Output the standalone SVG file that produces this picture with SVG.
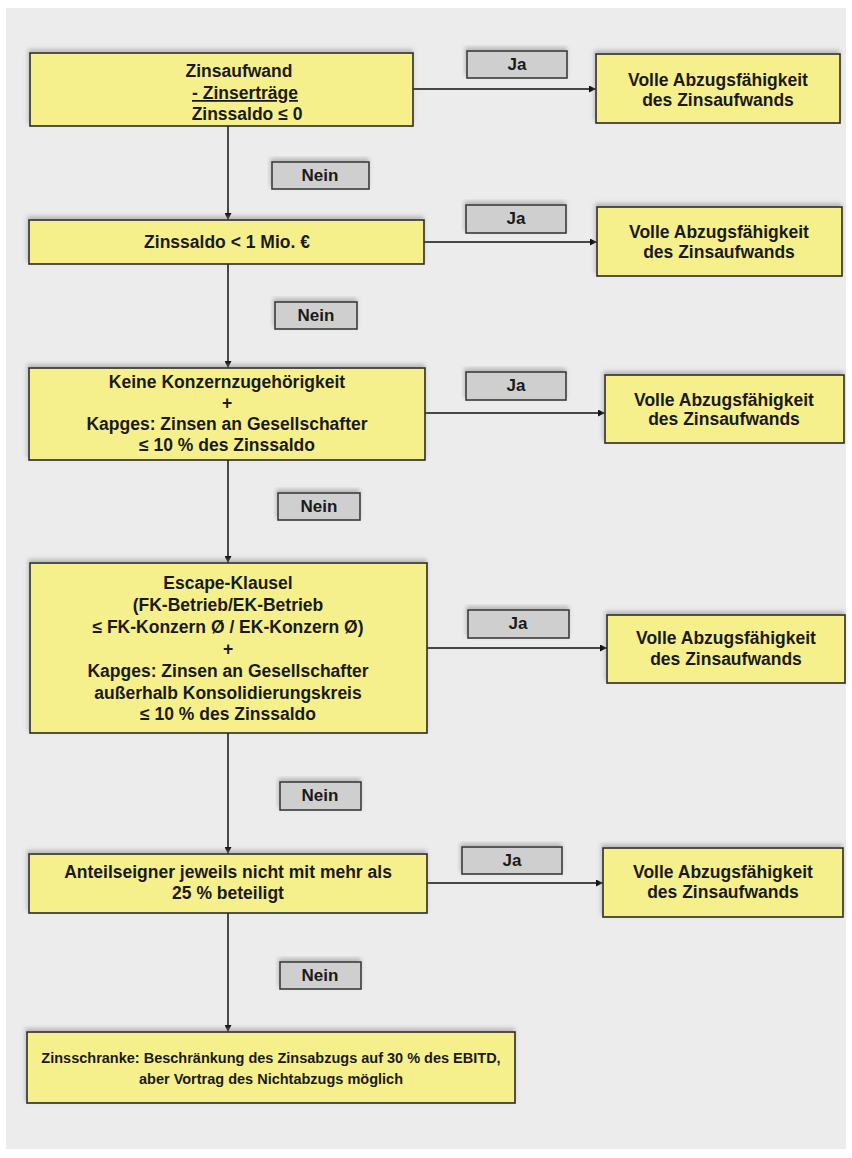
<svg xmlns="http://www.w3.org/2000/svg" width="852" height="1158" viewBox="0 0 852 1158">
<defs>
<filter id="sh" x="-5%" y="-20%" width="110%" height="140%">
<feDropShadow dx="-1" dy="-3" stdDeviation="2" flood-color="#8a8a8a" flood-opacity="0.55"/>
</filter>
<marker id="ah" viewBox="0 0 10 10" refX="10" refY="5" markerWidth="7" markerHeight="7" orient="auto" markerUnits="userSpaceOnUse">
<path d="M0,0 L10,5 L0,10 z" fill="#111"/>
</marker>
</defs>
<style>
.n{fill:#f6f08c;stroke:#2a2a2a;stroke-width:1.6;filter:url(#sh)}
.l{fill:#cfcfcf;stroke:#3a3a3a;stroke-width:1.6;filter:url(#sh)}
.t{font-family:"Liberation Sans",Arial,sans-serif;font-weight:bold;font-size:17.5px;fill:#1a1a1a;text-anchor:middle}
.s{font-size:14.5px}
.lb{font-size:17px}
.c{fill:none;stroke:#111;stroke-width:1.5;marker-end:url(#ah)}
</style>
<rect x="0" y="0" width="852" height="1158" fill="#ffffff"/>
<rect x="6" y="8" width="840" height="1141" fill="#ececec"/>

<g id="connectors">
<path class="c" d="M228,126 V220"/>
<path class="c" d="M228,264 V368"/>
<path class="c" d="M228,460 V563"/>
<path class="c" d="M228,733 V854"/>
<path class="c" d="M228,913 V1032"/>
<path class="c" d="M413,89 H596"/>
<path class="c" d="M424,242 H597"/>
<path class="c" d="M425,413 H605"/>
<path class="c" d="M427,648 H607"/>
<path class="c" d="M426,883 H603"/>
</g>

<g id="n1">
<rect class="n" x="30" y="53" width="383" height="73"/>
<text class="t" x="239" y="77">Zinsaufwand</text>
<text class="t" x="245" y="99" text-decoration="underline">- Zinserträge</text>
<text class="t" x="247" y="120">Zinssaldo ≤ 0</text>
</g>
<g id="ja1">
<rect class="l" x="467" y="51" width="100" height="27"/>
<text class="t lb" x="517" y="70">Ja</text>
</g>
<g id="r1">
<rect class="n" x="596" y="54" width="244" height="69"/>
<text class="t" x="718" y="86">Volle Abzugsfähigkeit</text>
<text class="t" x="718" y="106">des Zinsaufwands</text>
</g>
<g id="nein1">
<rect class="l" x="272" y="162" width="97" height="27"/>
<text class="t lb" x="320" y="181">Nein</text>
</g>

<g id="n2">
<rect class="n" x="29" y="220" width="395" height="44"/>
<text class="t" x="227" y="248">Zinssaldo &lt; 1 Mio. €</text>
</g>
<g id="ja2">
<rect class="l" x="466" y="205" width="100" height="28"/>
<text class="t lb" x="516" y="224">Ja</text>
</g>
<g id="r2">
<rect class="n" x="597" y="207" width="245" height="69"/>
<text class="t" x="719" y="238">Volle Abzugsfähigkeit</text>
<text class="t" x="719" y="258">des Zinsaufwands</text>
</g>
<g id="nein2">
<rect class="l" x="275" y="302" width="82" height="27"/>
<text class="t lb" x="316" y="321">Nein</text>
</g>

<g id="n3">
<rect class="n" x="29" y="368" width="396" height="92"/>
<text class="t" x="227" y="388">Keine Konzernzugehörigkeit</text>
<text class="t" x="227" y="409">+</text>
<text class="t" x="227" y="430">Kapges: Zinsen an Gesellschafter</text>
<text class="t" x="227" y="451">≤ 10 % des Zinssaldo</text>
</g>
<g id="ja3">
<rect class="l" x="466" y="372" width="100" height="28"/>
<text class="t lb" x="516" y="391">Ja</text>
</g>
<g id="r3">
<rect class="n" x="605" y="375" width="239" height="68"/>
<text class="t" x="724" y="406">Volle Abzugsfähigkeit</text>
<text class="t" x="724" y="425">des Zinsaufwands</text>
</g>
<g id="nein3">
<rect class="l" x="278" y="493" width="82" height="27"/>
<text class="t lb" x="319" y="512">Nein</text>
</g>

<g id="n4">
<rect class="n" x="30" y="563" width="397" height="170"/>
<text class="t" x="228" y="589">Escape-Klausel</text>
<text class="t" x="228" y="611">(FK-Betrieb/EK-Betrieb</text>
<text class="t" x="228" y="633">≤ FK-Konzern Ø / EK-Konzern Ø)</text>
<text class="t" x="228" y="655">+</text>
<text class="t" x="228" y="677">Kapges: Zinsen an Gesellschafter</text>
<text class="t" x="228" y="699">außerhalb Konsolidierungskreis</text>
<text class="t" x="228" y="720">≤ 10 % des Zinssaldo</text>
</g>
<g id="ja4">
<rect class="l" x="468" y="610" width="101" height="28"/>
<text class="t lb" x="518" y="629">Ja</text>
</g>
<g id="r4">
<rect class="n" x="607" y="615" width="238" height="68"/>
<text class="t" x="726" y="644">Volle Abzugsfähigkeit</text>
<text class="t" x="726" y="665">des Zinsaufwands</text>
</g>
<g id="nein4">
<rect class="l" x="280" y="782" width="81" height="28"/>
<text class="t lb" x="320" y="801">Nein</text>
</g>

<g id="n5">
<rect class="n" x="29" y="854" width="398" height="59"/>
<text class="t" x="228" y="878">Anteilseigner jeweils nicht mit mehr als</text>
<text class="t" x="228" y="899">25 % beteiligt</text>
</g>
<g id="ja5">
<rect class="l" x="462" y="847" width="100" height="27"/>
<text class="t lb" x="512" y="866">Ja</text>
</g>
<g id="r5">
<rect class="n" x="603" y="848" width="240" height="69"/>
<text class="t" x="723" y="878">Volle Abzugsfähigkeit</text>
<text class="t" x="723" y="898">des Zinsaufwands</text>
</g>
<g id="nein5">
<rect class="l" x="280" y="962" width="81" height="27"/>
<text class="t lb" x="320" y="981">Nein</text>
</g>

<g id="n6">
<rect class="n" x="27" y="1032" width="488" height="71"/>
<text class="t s" x="271" y="1063">Zinsschranke: Beschränkung des Zinsabzugs auf 30 % des EBITD,</text>
<text class="t s" x="271" y="1084">aber Vortrag des Nichtabzugs möglich</text>
</g>
</svg>
